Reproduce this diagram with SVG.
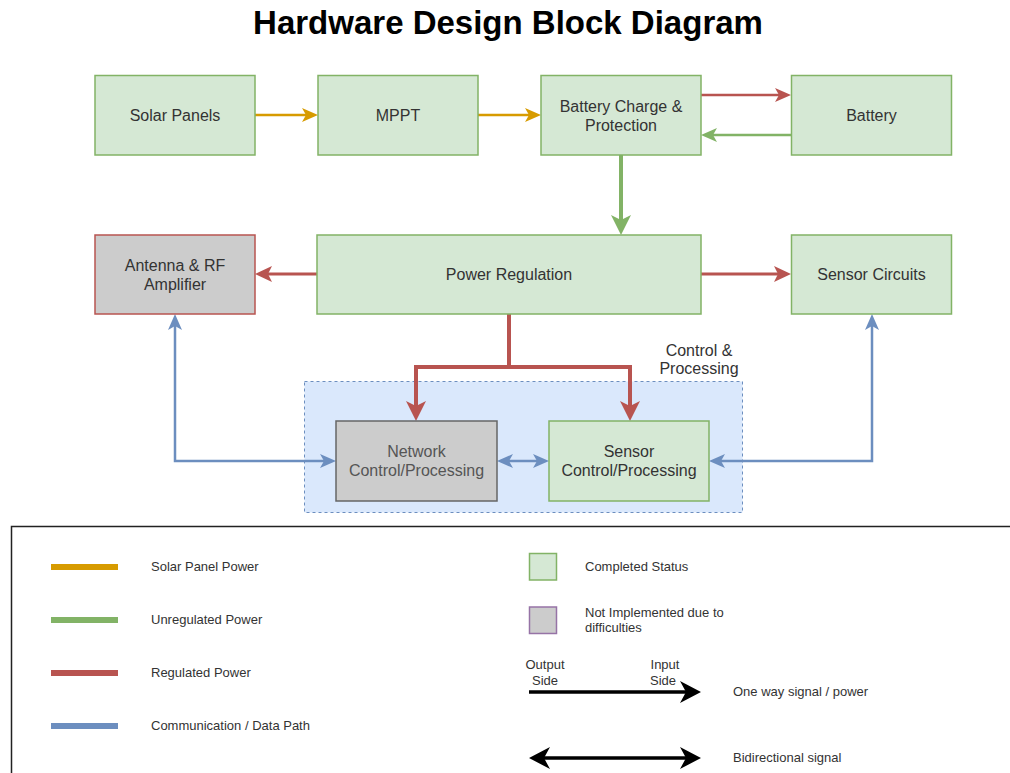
<svg xmlns="http://www.w3.org/2000/svg" width="1010" height="773" viewBox="0 0 1010 773">
  <style>
    .t { font-family: "Liberation Sans", Arial, sans-serif; fill: #333333; }
    .lbl { font-size: 16px; text-anchor: middle; }
    .leg { font-size: 13px; }
    .done { fill: #d5e8d4; stroke: #82b366; stroke-width: 1.5; }
    .nimp { fill: #cccccc; stroke: #666666; stroke-width: 1.5; }
    .wire { fill: none; stroke-linejoin: miter; }
    .or { stroke: #d79b00; stroke-width: 2.5; }
    .gr { stroke: #82b366; stroke-width: 2.5; }
    .grb { stroke: #82b366; stroke-width: 4; }
    .rd { stroke: #b85450; stroke-width: 2.5; }
    .rdm { stroke: #b85450; stroke-width: 3; }
    .rdb { stroke: #b85450; stroke-width: 4; }
    .bl { stroke: #6c8ebf; stroke-width: 2.5; }
    .bk { stroke: #000000; stroke-width: 3.5; }
  </style>
  <defs>
    <marker id="m-or" markerUnits="userSpaceOnUse" orient="auto-start-reverse" refX="0" refY="0" markerWidth="40" markerHeight="40" viewBox="-20 -20 40 40" overflow="visible">
      <path d="M12 0 L-4 -7 L0 0 L-4 7 Z" fill="#d79b00"/>
    </marker>
    <marker id="m-gr" markerUnits="userSpaceOnUse" orient="auto-start-reverse" refX="0" refY="0" markerWidth="40" markerHeight="40" viewBox="-20 -20 40 40" overflow="visible">
      <path d="M12 0 L-4 -7 L0 0 L-4 7 Z" fill="#82b366"/>
    </marker>
    <marker id="m-grb" markerUnits="userSpaceOnUse" orient="auto-start-reverse" refX="0" refY="0" markerWidth="40" markerHeight="40" viewBox="-20 -20 40 40" overflow="visible">
      <path d="M15 0 L-5 -10 L0 0 L-5 10 Z" fill="#82b366"/>
    </marker>
    <marker id="m-rd" markerUnits="userSpaceOnUse" orient="auto-start-reverse" refX="0" refY="0" markerWidth="40" markerHeight="40" viewBox="-20 -20 40 40" overflow="visible">
      <path d="M12 0 L-4 -7 L0 0 L-4 7 Z" fill="#b85450"/>
    </marker>
    <marker id="m-rdm" markerUnits="userSpaceOnUse" orient="auto-start-reverse" refX="0" refY="0" markerWidth="40" markerHeight="40" viewBox="-20 -20 40 40" overflow="visible">
      <path d="M13 0 L-4 -8 L0 0 L-4 8 Z" fill="#b85450"/>
    </marker>
    <marker id="m-rdb" markerUnits="userSpaceOnUse" orient="auto-start-reverse" refX="0" refY="0" markerWidth="40" markerHeight="40" viewBox="-20 -20 40 40" overflow="visible">
      <path d="M15 0 L-5 -10 L0 0 L-5 10 Z" fill="#b85450"/>
    </marker>
    <marker id="m-bl" markerUnits="userSpaceOnUse" orient="auto-start-reverse" refX="0" refY="0" markerWidth="40" markerHeight="40" viewBox="-20 -20 40 40" overflow="visible">
      <path d="M12 0 L-4 -7 L0 0 L-4 7 Z" fill="#6c8ebf"/>
    </marker>
    <marker id="m-bk" markerUnits="userSpaceOnUse" orient="auto-start-reverse" refX="0" refY="0" markerWidth="40" markerHeight="40" viewBox="-20 -20 40 40" overflow="visible">
      <path d="M15 0 L-6 -11 L0 0 L-6 11 Z" fill="#000000"/>
    </marker>
  </defs>

  <rect width="1010" height="773" fill="#ffffff"/>

  <!-- title -->
  <text class="t" x="508" y="34" font-size="33" font-weight="bold" text-anchor="middle" style="fill:#000">Hardware Design Block Diagram</text>

  <!-- control & processing container -->
  <g id="control-processing">
    <rect x="304.5" y="381.5" width="438" height="131" fill="#dae8fc" stroke="#6c8ebf" stroke-width="1" stroke-dasharray="3 3"/>
    <text class="t lbl" x="699" y="356">Control &amp;</text>
    <text class="t lbl" x="699" y="374">Processing</text>
  </g>

  <!-- connectors -->
  <g id="connectors">
    <path class="wire or" d="M255 115 H306" marker-end="url(#m-or)"/>
    <path class="wire or" d="M478 115 H529" marker-end="url(#m-or)"/>
    <path class="wire rd" d="M701 95 H779" marker-end="url(#m-rd)"/>
    <path class="wire gr" d="M791 135 H713" marker-end="url(#m-gr)"/>
    <path class="wire grb" d="M621 155 V220" marker-end="url(#m-grb)"/>
    <path class="wire rdm" d="M317 274 H268" marker-end="url(#m-rdm)"/>
    <path class="wire rdm" d="M701 274 H778" marker-end="url(#m-rdm)"/>
    <path class="wire rdb" d="M509 314 V367 H416 V406" marker-end="url(#m-rdb)"/>
    <path class="wire rdb" d="M509 367 H630 V406" marker-end="url(#m-rdb)"/>
    <path class="wire bl" d="M175 326 V461 H324" marker-start="url(#m-bl)" marker-end="url(#m-bl)"/>
    <path class="wire bl" d="M872 326 V461 H721" marker-start="url(#m-bl)" marker-end="url(#m-bl)"/>
    <path class="wire bl" d="M509 461 H537" marker-start="url(#m-bl)" marker-end="url(#m-bl)"/>
  </g>

  <!-- nodes -->
  <g id="solar-panels">
    <rect class="done" x="95" y="75.5" width="160" height="79.5"/>
    <text class="t lbl" x="175" y="121">Solar Panels</text>
  </g>
  <g id="mppt">
    <rect class="done" x="318" y="75.5" width="160" height="79.5"/>
    <text class="t lbl" x="398" y="121">MPPT</text>
  </g>
  <g id="battery-charge">
    <rect class="done" x="541" y="75.5" width="160" height="79.5"/>
    <text class="t lbl" x="621" y="112">Battery Charge &amp;</text>
    <text class="t lbl" x="621" y="130.5">Protection</text>
  </g>
  <g id="battery">
    <rect class="done" x="791.5" y="75.5" width="160" height="79.5"/>
    <text class="t lbl" x="871.5" y="121">Battery</text>
  </g>
  <g id="antenna-rf">
    <rect x="95" y="235" width="160" height="79" fill="#cccccc" stroke="#b85450" stroke-width="1.5"/>
    <text class="t lbl" x="175" y="271">Antenna &amp; RF</text>
    <text class="t lbl" x="175" y="289.5">Amplifier</text>
  </g>
  <g id="power-regulation">
    <rect class="done" x="317" y="235" width="384" height="79"/>
    <text class="t lbl" x="509" y="280">Power Regulation</text>
  </g>
  <g id="sensor-circuits">
    <rect class="done" x="791.5" y="235" width="160" height="79"/>
    <text class="t lbl" x="871.5" y="280">Sensor Circuits</text>
  </g>
  <g id="network-control">
    <rect class="nimp" x="336" y="421" width="161" height="80"/>
    <text class="t lbl" x="416.5" y="456.5" style="fill:#555555">Network</text>
    <text class="t lbl" x="416.5" y="475.5" style="fill:#555555">Control/Processing</text>
  </g>
  <g id="sensor-control">
    <rect class="done" x="549" y="421" width="160" height="80"/>
    <text class="t lbl" x="629" y="456.5">Sensor</text>
    <text class="t lbl" x="629" y="475.5">Control/Processing</text>
  </g>

  <!-- legend -->
  <g id="legend">
    <rect x="11.5" y="526.5" width="1010" height="260" fill="#ffffff" stroke="#222222" stroke-width="1.5"/>
    <line x1="51" y1="567" x2="118" y2="567" stroke="#d79b00" stroke-width="6"/>
    <line x1="51" y1="620" x2="118" y2="620" stroke="#82b366" stroke-width="6"/>
    <line x1="51" y1="673" x2="118" y2="673" stroke="#b85450" stroke-width="6"/>
    <line x1="51" y1="726" x2="118" y2="726" stroke="#6c8ebf" stroke-width="6"/>
    <text class="t leg" x="151" y="571">Solar Panel Power</text>
    <text class="t leg" x="151" y="624">Unregulated Power</text>
    <text class="t leg" x="151" y="677">Regulated Power</text>
    <text class="t leg" x="151" y="730">Communication / Data Path</text>

    <rect x="529.5" y="553.5" width="27" height="26.5" fill="#d5e8d4" stroke="#82b366" stroke-width="1.5"/>
    <text class="t leg" x="585" y="571">Completed Status</text>
    <rect x="529.5" y="607" width="27" height="26.5" fill="#cccccc" stroke="#9673a6" stroke-width="1.5"/>
    <text class="t leg" x="585" y="616.5">Not Implemented due to</text>
    <text class="t leg" x="585" y="631.5">difficulties</text>

    <text class="t leg" x="545" y="669" text-anchor="middle">Output</text>
    <text class="t leg" x="545" y="685" text-anchor="middle">Side</text>
    <text class="t leg" x="665" y="669" text-anchor="middle">Input</text>
    <text class="t leg" x="663" y="685" text-anchor="middle">Side</text>
    <path class="wire bk" d="M529 692 H686" marker-end="url(#m-bk)"/>
    <text class="t leg" x="733" y="696">One way signal / power</text>
    <path class="wire bk" d="M544 758 H686" marker-start="url(#m-bk)" marker-end="url(#m-bk)"/>
    <text class="t leg" x="733" y="762">Bidirectional signal</text>
  </g>
</svg>
